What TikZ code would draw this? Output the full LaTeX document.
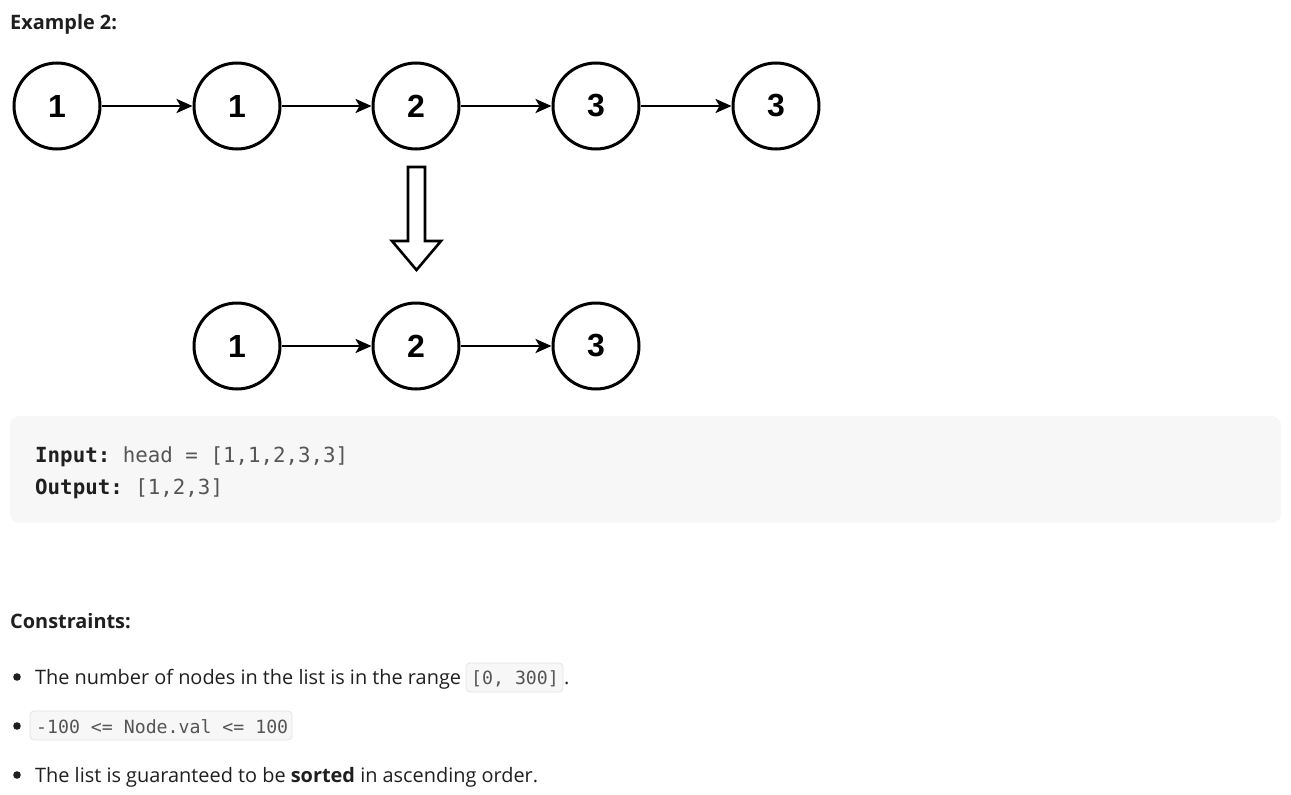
\documentclass[tikz,border=0pt]{standalone}
\usepackage{fontspec}
\setmainfont{Open Sans}
\setmonofont{DejaVu Sans Mono}
\newfontfamily\numfont{Liberation Sans}
\usetikzlibrary{arrows.meta}
\definecolor{txt}{HTML}{1F1F1F}
\definecolor{codebg}{HTML}{F7F7F7}
\definecolor{codetxt}{HTML}{555555}
\definecolor{inlinebg}{HTML}{F7F7F7}
\definecolor{inlineborder}{HTML}{E3E3E3}
\tikzset{
  lnode/.style={circle,draw=black,line width=3pt,minimum size=86pt,inner sep=0pt,font=\numfont\bfseries\fontsize{32}{32}\selectfont},
  link/.style={line width=2.6pt,-{Stealth[length=16pt,width=14pt,inset=4pt]}},
  body/.style={anchor=base west,inner sep=0pt,text=txt,font=\fontsize{19.9}{22}\selectfont},
  head/.style={anchor=base west,inner sep=0pt,text=txt,font=\bfseries\fontsize{19.9}{22}\selectfont},
  code/.style={anchor=base west,inner sep=0pt,text=codetxt,font=\ttfamily\fontsize{20.8}{22}\selectfont},
  icode/.style={anchor=base west,inner sep=0pt,text=codetxt,font=\ttfamily\fontsize{18.2}{20}\selectfont},
  inl/.style={fill=inlinebg,draw=inlineborder,line width=0.8pt,rounded corners=4pt},
}
\begin{document}
\begin{tikzpicture}[x=1pt,y=-1pt]
\useasboundingbox (0,0) rectangle (1291,795);
\node[head] (title) at (10,29) {Example 2:};
% top row
\node[lnode] (a1) at (57,106) {1};
\node[lnode] (a2) at (237,106) {1};
\node[lnode] (a3) at (416,106) {2};
\node[lnode] (a4) at (596,106) {3};
\node[lnode] (a5) at (776,106) {3};
\draw[link] (a1) -- (a2);
\draw[link] (a2) -- (a3);
\draw[link] (a3) -- (a4);
\draw[link] (a4) -- (a5);
% hollow arrow
\draw[line width=2.6pt,line join=miter,fill=white] (408,167) -- (425,167) -- (425,241) -- (441,241) -- (416.5,270) -- (392,241) -- (408,241) -- cycle;
% bottom row
\node[lnode] (b1) at (237,346) {1};
\node[lnode] (b2) at (416,346) {2};
\node[lnode] (b3) at (596,346) {3};
\draw[link] (b1) -- (b2);
\draw[link] (b2) -- (b3);
% code box
\fill[codebg,rounded corners=9pt] (10,416) rectangle (1281,523);
\node[code] (in) at (35,462) {\textbf{\color{txt}Input:} head = [1,1,2,3,3]};
\node[code] (out) at (35,494) {\textbf{\color{txt}Output:} [1,2,3]};
% constraints
\node[head] (cons) at (10,628) {Constraints:};
\fill[txt] (17,677) circle (3.8pt);
\fill[txt] (17,726) circle (3.8pt);
\fill[txt] (17,775) circle (3.8pt);
\node[body] (l1) at (35,684) {The number of nodes in the list is in the range};
\draw[inl] (466,663) rectangle (563,692);
\node[icode] (c1) at (471,684) {[0, 300]};
\node[body] (dot) at (564,684) {.};
\draw[inl] (30,711) rectangle (292,740);
\node[icode] (c2) at (36,733) {-100 <= Node.val <= 100};
\node[body] (l3) at (35,782) {The list is guaranteed to be \textbf{sorted} in ascending order.};
\end{tikzpicture}
\end{document}
